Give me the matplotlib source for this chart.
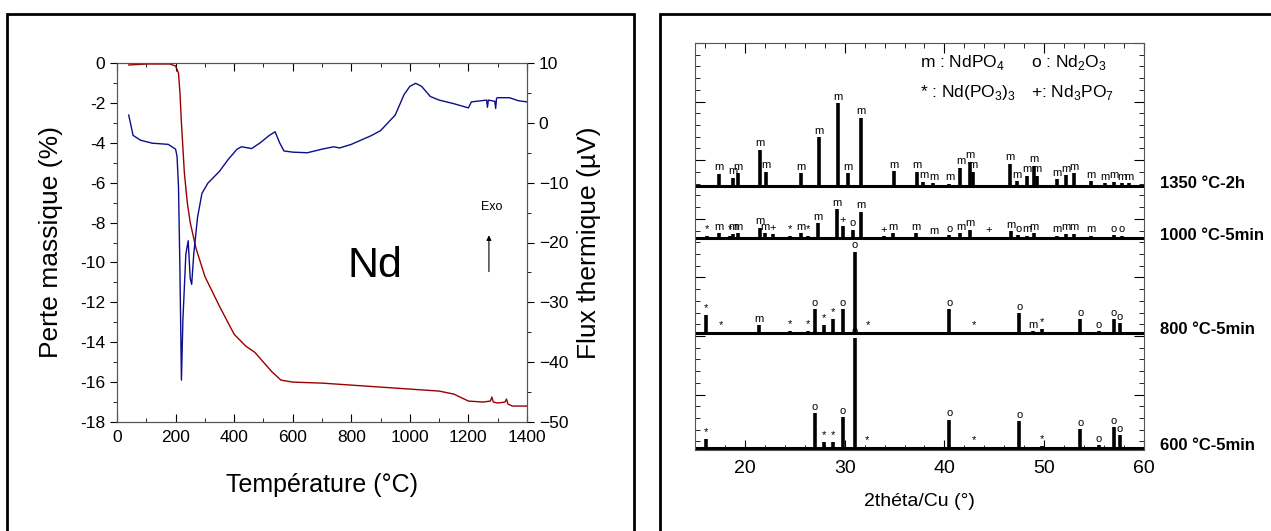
import numpy as np
import matplotlib
matplotlib.use('Agg')
import matplotlib.pyplot as plt
from matplotlib.patches import Rectangle
from matplotlib.ticker import MultipleLocator, FixedLocator

plt.rcParams['font.family'] = ['Liberation Sans', 'DejaVu Sans']
plt.rcParams['mathtext.fontset'] = 'custom'
plt.rcParams['mathtext.rm'] = 'Liberation Sans'

# ---- ATG / ATD (panneau gauche) ----
tga_T = [40, 100, 180, 200, 210, 215, 220, 230, 240, 250, 270, 300, 350, 400, 420, 440,
         470, 500, 530, 560, 600, 700, 800, 900, 1000, 1100, 1150, 1200, 1250, 1275, 1280,
         1285, 1300, 1325, 1330, 1335, 1350, 1400]
tga_m = [-0.1, -0.05, -0.05, -0.15, -0.5, -1.5, -3.0, -5.5, -7.0, -8.0, -9.3, -10.7, -12.2,
         -13.6, -13.9, -14.2, -14.5, -15.0, -15.5, -15.9, -16.0, -16.05, -16.15, -16.25,
         -16.35, -16.45, -16.6, -16.95, -17.0, -16.95, -16.75, -17.0, -17.05, -17.0, -16.85,
         -17.1, -17.2, -17.2]

dta_T = [40, 55, 80, 120, 175, 200, 205, 210, 215, 220, 225, 235, 243, 250, 255, 262, 275,
         290, 310, 350, 380, 410, 425, 460, 490, 520, 540, 555, 570, 600, 650, 700, 740, 760,
         800, 870, 900, 950, 980, 1000, 1020, 1040, 1070, 1100, 1150, 1200, 1210, 1262,
         1265, 1268, 1290, 1293, 1296, 1300, 1340, 1370, 1400]
dta_uV = [1.3, -2.1, -2.9, -3.4, -3.6, -4.4, -5.6, -10.7, -24.9, -43.0, -33.0, -22.0, -19.7,
          -26.0, -27.0, -22.0, -15.8, -11.8, -10.1, -8.1, -6.1, -4.4, -4.0, -4.3, -3.3, -2.1,
          -1.5, -3.3, -4.7, -4.9, -5.0, -4.4, -4.0, -4.2, -3.6, -2.1, -1.3, 1.3, 4.7, 6.1,
          6.6, 6.1, 4.4, 3.8, 3.2, 2.5, 3.5, 3.8, 2.6, 3.8, 3.6, 2.4, 4.1, 4.2, 4.2, 3.7, 3.5]

# ---- DRX (panneau droit) ----
x1350 = [17.4, 18.8, 19.3, 21.5, 22.1, 25.6, 27.4, 29.3, 30.3, 31.6, 34.9, 37.2, 37.9, 38.9,
         40.5, 41.6, 42.6, 42.9, 46.6, 47.3, 48.3, 49.0, 49.3, 51.3, 52.2, 53.0, 54.7, 56.1,
         57.0, 57.8, 58.5]
h1350 = [12, 8, 13, 36, 14, 13, 49, 83, 13, 68, 15, 14, 4, 3, 2, 18, 24, 14, 22, 5, 10, 20,
         10, 7, 11, 13, 5, 3, 4, 3, 3]
s1350 = ['m'] * len(x1350)

x1000 = [16.2, 17.4, 18.5, 18.8, 19.3, 21.5, 22.0, 22.8, 24.5, 25.6, 26.3, 27.3, 29.2, 29.8,
         30.8, 31.6, 33.9, 34.8, 37.1, 38.9, 40.5, 41.6, 42.6, 44.4, 46.7, 47.4, 48.3, 49.0,
         51.3, 52.2, 53.0, 54.7, 57.0, 57.8]
h1000 = [2, 5, 2, 4, 5, 10, 5, 4, 2, 5, 2, 15, 29, 12, 8, 26, 2, 5, 5, 1, 3, 5, 8, 1, 7, 3,
         2, 5, 2, 4, 4, 2, 3, 2]
s1000 = ['*', 'm', '*', 'm', 'm', 'm', 'm', '+', '*', 'm', '*', 'm', 'm', '+', 'o', 'm', '+',
         'm', 'm', 'm', 'o', 'm', 'm', '+', 'm', 'o', 'm', 'm', 'm', 'm', 'm', 'm', 'o', 'o']

x800 = [16.1, 17.6, 21.4, 24.5, 26.3, 27.0, 27.9, 28.8, 29.8, 31.0, 32.3, 40.5, 43.0, 47.5,
        48.9, 49.8, 53.6, 55.5, 57.0, 57.6]
h800 = [18, 1, 8, 2, 2, 24, 8, 14, 24, 81, 1, 24, 1, 20, 2, 4, 14, 2, 14, 10]
s800 = ['*', '*', 'm', '*', '*', 'o', '*', '*', 'o', 'o', '*', 'o', '*', 'o', 'm', '*', 'o',
        'o', 'o', 'o']

x600 = [16.1, 27.0, 27.9, 28.8, 29.8, 31.0, 32.2, 40.5, 43.0, 47.5, 49.8, 53.6, 55.5, 57.0,
        57.6]
h600 = [9, 35, 6, 6, 31, 110, 1, 28, 1, 27, 2, 19, 3, 21, 13]
s600 = ['*', 'o', '*', '*', 'o', 'o', '*', 'o', '*', 'o', '*', 'o', 'o', 'o', 'o']

echantillons = ['1350 °C-2h', '1000 °C-5min', '800 °C-5min', '600 °C-5min']
lignes_base = [264, 212, 117, 2]

fig = plt.figure(figsize=(12.71, 5.31), dpi=100)
W, H = 1271, 531

# cadres
fig.patches.append(Rectangle((7 / W, -0.05), (634 - 7) / W, 1.05 - 14 / H,
                             transform=fig.transFigure, fill=False, lw=2, ec='black'))
fig.patches.append(Rectangle((660 / W, -0.05), 0.5, 1.05 - 14 / H,
                             transform=fig.transFigure, fill=False, lw=2, ec='black'))

# ---------- panneau gauche ----------
gris = '#555555'
ax = fig.add_axes([117 / W, 1 - 422 / H, 410 / W, 359 / H])
ax.plot(tga_T, tga_m, color='#990000', lw=1)
ax.set_xlim(0, 1400)
ax.set_ylim(-18, 0)
ax.xaxis.set_major_locator(MultipleLocator(200))
ax.xaxis.set_minor_locator(MultipleLocator(100))
ax.yaxis.set_major_locator(MultipleLocator(2))
ax.yaxis.set_minor_locator(MultipleLocator(1))
ax.tick_params(axis='y', which='both', direction='out', colors='black', labelsize=12.5)
ax.tick_params(axis='y', which='major', length=5)
ax.tick_params(axis='y', which='minor', length=3)
ax.tick_params(axis='x', which='both', direction='in', top=True, labelsize=12.5, pad=6)
ax.tick_params(axis='x', which='major', length=6)
ax.tick_params(axis='x', which='minor', length=3)
ax.set_yticklabels([f'{v:g}' for v in ax.get_yticks()])
ax.set_xlabel('Température (°C)', fontsize=18, labelpad=20)
ax.set_ylabel('Perte massique (%)', fontsize=19, labelpad=12)
for sp in ax.spines.values():
    sp.set_color(gris)
ax.text(880, -10.2, 'Nd', fontsize=31, ha='center', va='center')
ax.text(1280, -7.2, 'Exo', fontsize=9, ha='center', va='center')
ax.annotate('', xy=(1270, -8.5), xytext=(1270, -10.6),
            arrowprops=dict(arrowstyle='-|>', lw=0.8, color='black', mutation_scale=7))

ax2 = ax.twinx()
ax2.plot(dta_T, dta_uV, color='#0d0d8c', lw=1)
ax2.set_ylim(-50, 10)
ax2.yaxis.set_major_locator(MultipleLocator(10))
ax2.yaxis.set_minor_locator(MultipleLocator(5))
ax2.tick_params(axis='y', which='both', direction='out', labelsize=12.5)
ax2.tick_params(axis='y', which='major', length=5)
ax2.tick_params(axis='y', which='minor', length=3)
ax2.set_ylabel('Flux thermique (µV)', fontsize=19, labelpad=6)
for sp in ax2.spines.values():
    sp.set_color(gris)

# ---------- panneau droit ----------
bx = fig.add_axes([695 / W, 1 - 450 / H, 449 / W, 407 / H])
bx.set_xlim(15, 60)
bx.set_ylim(0, 407)
series = [(x1350, h1350, s1350), (x1000, h1000, s1000), (x800, h800, s800), (x600, h600, s600)]
for (xs, hs, ss), base, nom in zip(series, lignes_base, echantillons):
    bx.hlines(base, 15, 60, color='black', lw=2.2)
    bx.vlines(xs, base, base + np.array(hs), color='black', lw=2.6)
    for xp, hp, sy in zip(xs, hs, ss):
        bx.text(xp, base + hp + 1.5, sy, fontsize=8, ha='center', va='bottom')
    bx.text(61.6, base + 3, nom, fontsize=12, fontweight='bold', ha='left',
            va='center', clip_on=False)

bx.text(37.6, 388, 'm : NdPO$_4$', fontsize=12.5, va='center')
bx.text(48.7, 388, 'o : Nd$_2$O$_3$', fontsize=12.5, va='center')
bx.text(37.6, 358, '* : Nd(PO$_3$)$_3$', fontsize=12.5, va='center')
bx.text(48.7, 358, '+: Nd$_3$PO$_7$', fontsize=12.5, va='center')

bx.xaxis.set_major_locator(FixedLocator([20, 30, 40, 50, 60]))
bx.xaxis.set_minor_locator(MultipleLocator(2))
bx.yaxis.set_major_locator(FixedLocator(407 - 58.6 * np.arange(0, 7)))
bx.yaxis.set_minor_locator(FixedLocator(407 - 11.72 * np.arange(0, 35)))
bx.tick_params(axis='both', which='both', direction='in', top=True, right=True,
               labelsize=14)
bx.tick_params(axis='x', pad=7)
bx.tick_params(axis='both', which='major', length=7)
bx.tick_params(axis='both', which='minor', length=3.5)
bx.tick_params(axis='y', labelleft=False)
bx.set_xlabel('2théta/Cu (°)', fontsize=14, labelpad=12)
for sp in bx.spines.values():
    sp.set_color(gris)

fig.savefig('out.png', dpi=100)
